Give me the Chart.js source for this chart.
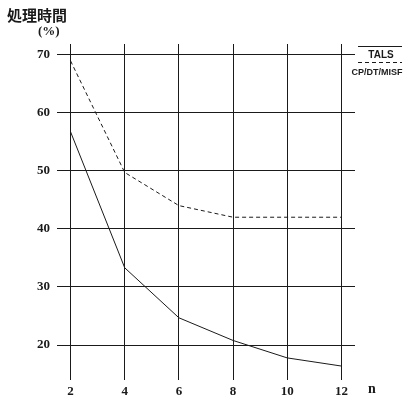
<!DOCTYPE html>
<html>
<head>
<meta charset="utf-8">
<script src="https://cdn.jsdelivr.net/npm/chart.js@4"></script>
<style>
  html, body { margin: 0; padding: 0; background: #fff; }
  #wrap { position: relative; width: 411px; height: 399px; }
</style>
</head>
<body>
<div id="wrap"><canvas id="chart" width="411" height="399"></canvas></div>
<script>
const nValues = [2, 4, 6, 8, 10, 12];
const talsValues = [56.7, 33.3, 24.7, 20.8, 17.8, 16.4];
const cpValues = [68.9, 49.7, 44.0, 42.0, 42.0, 42.0];
const yTicks = [20, 30, 40, 50, 60, 70];
const seriesNames = ["TALS", "CP/DT/MISF"];
const yTitle = "処理時間";
const yUnit = "(%)";
const xTitle = "n";

const serif = "'Liberation Serif', 'DejaVu Serif', serif";
const ink = "#1a1a1a";

const toPoints = (vals) => vals.map((v, i) => ({ x: nValues[i], y: v }));

// titles and the little legend in the top right corner
const extras = {
  id: "extras",
  afterDraw(chart) {
    const ctx = chart.ctx;
    ctx.save();
    ctx.fillStyle = ink;
    ctx.textBaseline = "middle";
    ctx.textAlign = "left";
    ctx.font = "bold 15px 'Noto Sans CJK JP', sans-serif";
    ctx.fillText(yTitle, 7, 15);
    ctx.font = "bold 13px " + serif;
    ctx.fillText(yUnit, 38, 32);
    ctx.font = "bold 14px " + serif;
    ctx.fillText(xTitle, 368, 389);

    ctx.strokeStyle = ink;
    ctx.lineWidth = 1;
    ctx.beginPath();
    ctx.moveTo(358, 46.5);
    ctx.lineTo(402, 46.5);
    ctx.stroke();
    ctx.setLineDash([4, 3]);
    ctx.beginPath();
    ctx.moveTo(358, 62.5);
    ctx.lineTo(402, 62.5);
    ctx.stroke();
    ctx.setLineDash([]);

    ctx.font = "bold 10px 'Liberation Sans', Arial, sans-serif";
    ctx.textAlign = "center";
    ctx.fillText(seriesNames[0], 381, 55);
    ctx.font = "bold 9px 'Liberation Sans', Arial, sans-serif";
    ctx.fillText(seriesNames[1], 377, 73);
    ctx.restore();
  },
};

new Chart(document.getElementById("chart"), {
  type: "line",
  data: {
    datasets: [
      {
        label: seriesNames[0],
        data: toPoints(talsValues),
        borderColor: ink,
        borderWidth: 1,
        pointRadius: 0,
        tension: 0,
      },
      {
        label: seriesNames[1],
        data: toPoints(cpValues),
        borderColor: ink,
        borderWidth: 1,
        borderDash: [4, 3],
        pointRadius: 0,
        tension: 0,
      },
    ],
  },
  options: {
    responsive: false,
    animation: false,
    layout: { padding: { left: 0, top: 44, right: 56, bottom: 0 } },
    plugins: {
      legend: { display: false },
      tooltip: { enabled: false },
    },
    scales: {
      x: {
        type: "linear",
        min: 1.5,
        max: 12.5,
        afterBuildTicks: (scale) => {
          scale.ticks = nValues.map((v) => ({ value: v }));
        },
        afterFit: (scale) => {
          scale.height = 19;
        },
        border: { display: false },
        grid: { color: ink, lineWidth: 1, drawTicks: false },
        ticks: {
          color: ink,
          padding: 4,
          font: { family: serif, size: 13, weight: "bold" },
        },
      },
      y: {
        min: 14,
        max: 71.8,
        afterBuildTicks: (scale) => {
          scale.ticks = yTicks.map((v) => ({ value: v }));
        },
        afterFit: (scale) => {
          scale.width = 57;
        },
        border: { display: false },
        grid: { color: ink, lineWidth: 1, drawTicks: false },
        ticks: {
          color: ink,
          padding: 7,
          font: { family: serif, size: 13, weight: "bold" },
        },
      },
    },
  },
  plugins: [extras],
});
</script>
</body>
</html>
